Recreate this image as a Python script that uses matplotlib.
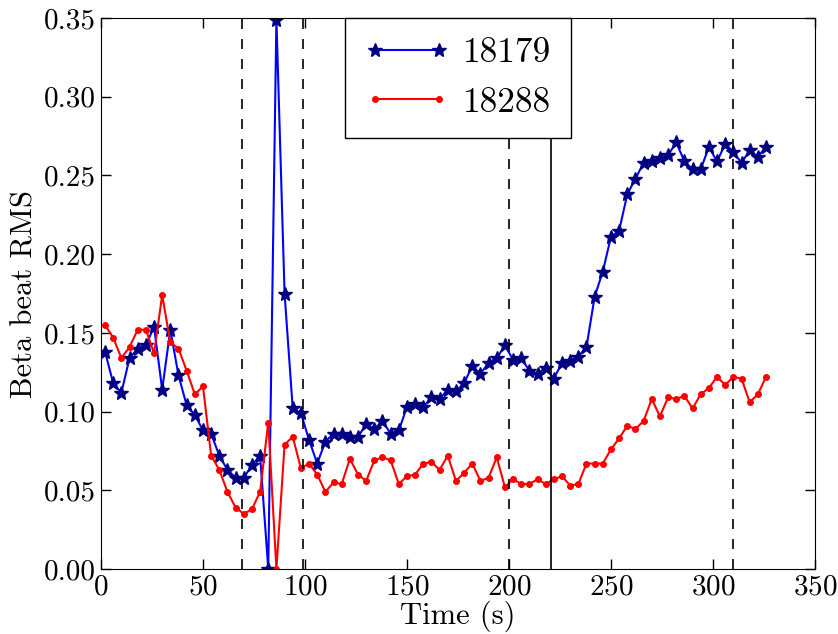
import numpy as np
import matplotlib
matplotlib.use("Agg")
import matplotlib.pyplot as plt

plt.rcParams['font.family'] = 'serif'
plt.rcParams['font.serif'] = ['cmr10', 'DejaVu Serif']
plt.rcParams['mathtext.fontset'] = 'cm'
plt.rcParams['axes.formatter.use_mathtext'] = True
plt.rcParams['xtick.direction'] = 'in'
plt.rcParams['ytick.direction'] = 'in'
plt.rcParams['xtick.top'] = True
plt.rcParams['ytick.right'] = True

# sample times (s), every 4 s
time = np.arange(2, 327, 4)

fill_18179 = [0.138, 0.118, 0.112, 0.134, 0.140, 0.142, 0.154, 0.114, 0.152, 0.123,
              0.104, 0.098, 0.088, 0.086, 0.072, 0.063, 0.058, 0.058, 0.066, 0.072,
              0.0, 0.349, 0.175, 0.102, 0.099, 0.082, 0.067, 0.081, 0.086, 0.086,
              0.084, 0.084, 0.092, 0.089, 0.094, 0.086, 0.088, 0.103, 0.105, 0.103,
              0.109, 0.108, 0.114, 0.113, 0.118, 0.129, 0.124, 0.131, 0.134, 0.142,
              0.133, 0.134, 0.126, 0.124, 0.128, 0.121, 0.131, 0.132, 0.135, 0.141,
              0.173, 0.189, 0.211, 0.215, 0.238, 0.248, 0.258, 0.259, 0.261, 0.263,
              0.271, 0.259, 0.254, 0.254, 0.268, 0.259, 0.270, 0.265, 0.258, 0.266,
              0.262, 0.268]

fill_18288 = [0.155, 0.147, 0.134, 0.141, 0.152, 0.152, 0.137, 0.174, 0.144, 0.140,
              0.126, 0.111, 0.116, 0.072, 0.063, 0.049, 0.039, 0.035, 0.038, 0.049,
              0.093, 0.0, 0.079, 0.084, 0.064, 0.067, 0.060, 0.049, 0.055, 0.054,
              0.070, 0.060, 0.056, 0.069, 0.071, 0.069, 0.054, 0.059, 0.060, 0.067,
              0.068, 0.063, 0.072, 0.056, 0.061, 0.067, 0.056, 0.058, 0.071, 0.052,
              0.057, 0.054, 0.054, 0.057, 0.054, 0.057, 0.059, 0.053, 0.054, 0.067,
              0.067, 0.067, 0.076, 0.083, 0.091, 0.089, 0.094, 0.108, 0.097, 0.109,
              0.108, 0.110, 0.102, 0.111, 0.115, 0.122, 0.117, 0.122, 0.121, 0.106,
              0.111, 0.122]

dashed_times = [69, 99, 200, 310]
solid_time = 220.5

fig = plt.figure(figsize=(8.38, 6.34), dpi=100)
ax = fig.add_axes([0.1205, 0.1025, 0.852, 0.869])

ax.plot(time, fill_18179, 'b-', marker='*', markersize=10, mfc='#000080', mec='#000080',
        label='18179')
ax.plot(time, fill_18288, 'r-', marker='.', markersize=8, label='18288')

for t in dashed_times:
    ax.axvline(t, color='k', linestyle='--', dashes=(6, 6), linewidth=1.2)
ax.axvline(solid_time, color='k', linewidth=1.2)

ax.set_xlim(0, 350)
ax.set_ylim(0, 0.35)
ax.set_xticks(np.arange(0, 351, 50))
ax.set_yticks(np.arange(0, 0.351, 0.05))
ax.set_yticklabels(['%.2f' % v for v in np.arange(0, 0.351, 0.05)])
ax.tick_params(labelsize=21, length=7, width=1)
ax.set_xlabel('Time (s)', fontsize=22, labelpad=0)
ax.set_ylabel('Beta beat RMS', fontsize=22, labelpad=4)

leg = ax.legend(loc='upper center', bbox_to_anchor=(0.50, 1.0), borderaxespad=0,
                fontsize=25.5, numpoints=2, fancybox=False, framealpha=1, edgecolor='k',
                handlelength=2.4, handletextpad=0.4, borderpad=0.55, labelspacing=0.5)
leg.get_frame().set_linewidth(1.0)

fig.savefig('out.png', dpi=100)
